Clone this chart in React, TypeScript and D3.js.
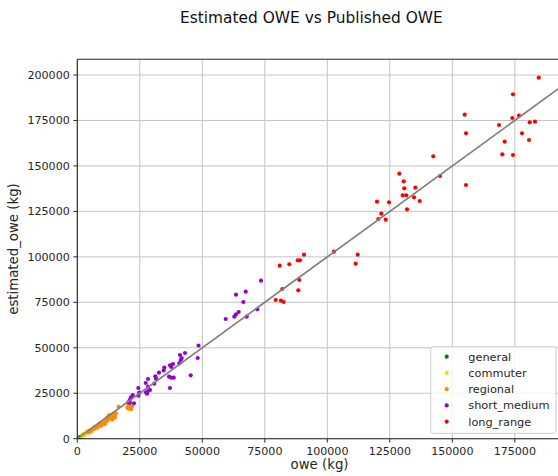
import React from "react";
import * as d3 from "d3";

// ---- data (owe kg, estimated_owe kg) ----
const generalOwe = [500, 800, 1000, 1200, 1500, 2000, 2300];
const generalEst = [300, 600, 400, 1000, 800, 1500, 1900];

const commuterOwe = [1800, 2000, 2200, 2500, 3000, 3000, 3500, 4000, 4500, 5000, 3800];
const commuterEst = [1200, 1500, 2500, 2200, 2500, 2000, 3000, 3200, 3800, 3500, 4000];

const regionalOwe = [4500, 5000, 5500, 6000, 6500, 7000, 7000, 7500, 8000, 8500, 9000, 9000, 9500, 10000, 10500, 11000, 11000, 11500, 12000, 12000, 12500, 13000, 13000, 13500, 14000, 14500, 15000, 15500, 16500, 20000, 20500, 21000, 21500, 22000, 20500, 21500, 15000, 14500, 13500];
const regionalEst = [3500, 4500, 4000, 5000, 6000, 5500, 6500, 6500, 6000, 7000, 7500, 8500, 7000, 8000, 8500, 8000, 9000, 9500, 10000, 11500, 12500, 11000, 13000, 11500, 10500, 12000, 12500, 14000, 17500, 17000, 18500, 17000, 17500, 18000, 16500, 16200, 11500, 13500, 12800];

const shortMediumOwe = [73480, 63480, 67360, 66400, 62800, 63480, 64560, 67760, 59360, 72000, 48480, 48160, 45360, 43080, 41080, 41760, 41360, 40800, 38280, 37080, 37600, 38560, 37600, 36680, 37080, 34800, 34560, 32680, 31200, 31480, 28280, 27360, 28280, 29080, 28280, 27480, 27880, 30800, 24400, 24800, 24400, 22160, 21480, 20960, 20400, 22680, 21000];
const shortMediumEst = [86880, 79180, 80840, 75170, 67090, 68410, 69670, 67090, 65820, 71160, 51250, 44380, 34860, 47130, 46030, 44380, 43280, 41460, 41080, 40360, 39430, 33540, 33540, 34090, 27880, 39150, 37500, 36290, 34310, 32990, 32830, 30630, 28590, 26780, 26230, 25520, 24750, 30240, 27880, 25300, 23650, 24030, 22770, 21280, 20020, 19500, 19800];

const longRangeOwe = [184560, 174280, 154960, 174000, 176680, 180960, 183080, 155480, 168680, 177880, 170960, 180680, 170000, 174280, 142400, 145080, 155480, 128800, 130560, 130800, 135200, 130160, 131600, 134680, 136960, 131880, 119880, 124680, 121600, 120400, 123360, 102680, 112160, 111360, 90680, 88160, 89080, 84800, 80960, 88800, 82000, 88400, 79360, 81480, 82560];
const longRangeEst = [198520, 189390, 178170, 176350, 177620, 173990, 174320, 167940, 172500, 167940, 163320, 164260, 156390, 156010, 155290, 144460, 139510, 145720, 141540, 137690, 138020, 133840, 133840, 132740, 130710, 126150, 130330, 130000, 123730, 120810, 120430, 102830, 101180, 96230, 101180, 98100, 98100, 95900, 95130, 87270, 82320, 81610, 76270, 75880, 75170];

const seriesNames = ["general", "commuter", "regional", "short_medium", "long_range"];
const seriesColors = ["#008000", "#ffd700", "#ff8c00", "#9400d3", "#ff0000"];
const seriesOwe = [generalOwe, commuterOwe, regionalOwe, shortMediumOwe, longRangeOwe];
const seriesEst = [generalEst, commuterEst, regionalEst, shortMediumEst, longRangeEst];

const xTicks = [0, 25000, 50000, 75000, 100000, 125000, 150000, 175000];
const yTicks = [0, 25000, 50000, 75000, 100000, 125000, 150000, 175000, 200000];

const X_MAX = 193790;
const Y_MAX = 208630;

const W = 558;
const H = 476;
const L = 77.3;
const R = 561.8;
const T = 59.3;
const B = 438.7;

const FONT = "DejaVu Sans, sans-serif";

export default function App() {
  const x = d3.scaleLinear().domain([0, X_MAX]).range([L, R]);
  const y = d3.scaleLinear().domain([0, Y_MAX]).range([B, T]);
  const line = d3.line<number>().x((d) => x(d)).y((d) => y(d));

  return (
    <div style={{ position: "absolute", left: 0, top: 0 }}>
      <svg width={W} height={H} style={{ display: "block", background: "#fff" }} fontFamily={FONT}>
        <defs>
          <clipPath id="plot">
            <rect x={L} y={T} width={R - L} height={B - T} />
          </clipPath>
        </defs>
        <rect x={0} y={0} width={W} height={H} fill="#fff" />
        {/* grid */}
        <g stroke="#c4c4c4" strokeWidth={1}>
          {xTicks.map((t) => (
            <line key={"gx" + t} x1={x(t)} x2={x(t)} y1={T} y2={B} />
          ))}
          {yTicks.map((t) => (
            <line key={"gy" + t} x1={L} x2={R} y1={y(t)} y2={y(t)} />
          ))}
        </g>
        {/* points */}
        <g clipPath="url(#plot)">
          {seriesNames.map((name, si) =>
            seriesOwe[si].map((v, i) => (
              <circle key={name + i} cx={x(v)} cy={y(seriesEst[si][i])} r={2.1} fill={seriesColors[si]} />
            ))
          )}
          <path d={line([0, X_MAX]) || ""} stroke="#808080" strokeWidth={1.7} fill="none" />
        </g>
        {/* spines */}
        <g stroke="#262626" strokeWidth={1.1} fill="none">
          <line x1={L} x2={L} y1={T} y2={B} />
          <line x1={L} x2={R} y1={B} y2={B} />
          <line x1={L} x2={R} y1={T} y2={T} />
          <line x1={R} x2={R} y1={T} y2={B} />
        </g>
        {/* ticks */}
        <g fontSize={11.1} fill="#262626">
          {xTicks.map((t) => (
            <g key={"xt" + t}>
              <line x1={x(t)} x2={x(t)} y1={B} y2={B + 3.9} stroke="#262626" strokeWidth={1} />
              <text x={x(t)} y={B + 16.3} textAnchor="middle">
                {t}
              </text>
            </g>
          ))}
          {yTicks.map((t) => (
            <g key={"yt" + t}>
              <line x1={L} x2={L - 3.9} y1={y(t)} y2={y(t)} stroke="#262626" strokeWidth={1} />
              <text x={L - 7.5} y={y(t) + 4} textAnchor="end">
                {t}
              </text>
            </g>
          ))}
        </g>
        {/* axis labels */}
        <text x={(L + R) / 2} y={469} textAnchor="middle" fontSize={13.3} fill="#262626">
          owe (kg)
        </text>
        <text
          transform={`translate(${17.5},${(T + B) / 2}) rotate(-90)`}
          textAnchor="middle"
          fontSize={13.3}
          fill="#262626"
        >
          estimated_owe (kg)
        </text>
        {/* title */}
        <text x={311.4} y={23} textAnchor="middle" fontSize={15.4} fill="#111">
          Estimated OWE vs Published OWE
        </text>
        {/* legend */}
        <g>
          <rect x={430.7} y={346.7} width={125.3} height={86.6} rx={2.5} fill="#fff" fillOpacity={0.8} stroke="#cccccc" strokeWidth={1} />
          {seriesNames.map((name, i) => {
            const cy = 356.7 + i * 16.25;
            return (
              <g key={"lg" + name}>
                <circle cx={446.7} cy={cy} r={2.1} fill={seriesColors[i]} />
                <text x={468.3} y={cy + 4} fontSize={11.3} fill="#262626">
                  {name}
                </text>
              </g>
            );
          })}
        </g>
      </svg>
    </div>
  );
}
